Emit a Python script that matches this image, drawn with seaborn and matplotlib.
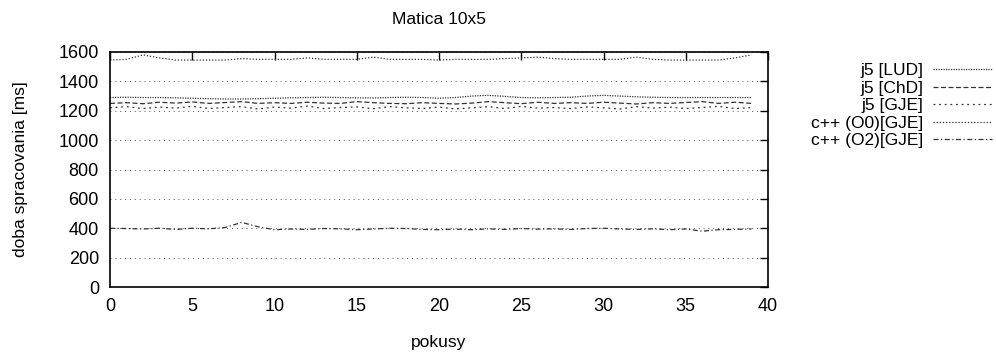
import numpy as np
import pandas as pd
import matplotlib
matplotlib.use("Agg")
import matplotlib.pyplot as plt
import seaborn as sns

title = "Matica 10x5"
xlabel = "pokusy"
ylabel = "doba spracovania [ms]"
series_names = ["j5 [LUD]", "j5 [ChD]", "j5 [GJE]", "c++ (O0)[GJE]", "c++ (O2)[GJE]"]
attempts = list(range(40))

lud = [1290, 1292, 1290, 1290, 1288, 1285, 1282, 1280, 1280, 1282,
       1285, 1288, 1290, 1292, 1290, 1288, 1287, 1290, 1292, 1290,
       1285, 1290, 1300, 1305, 1298, 1290, 1288, 1290, 1292, 1300,
       1305, 1300, 1295, 1292, 1290, 1290, 1290, 1290, 1290, 1290]
chd = [1250, 1255, 1248, 1258, 1252, 1260, 1250, 1256, 1262, 1250,
       1255, 1250, 1258, 1252, 1250, 1262, 1255, 1250, 1248, 1255,
       1250, 1246, 1252, 1262, 1255, 1248, 1258, 1250, 1255, 1250,
       1258, 1252, 1246, 1255, 1250, 1256, 1262, 1250, 1258, 1250]
gje = [1220, 1228, 1215, 1225, 1218, 1230, 1215, 1222, 1228, 1212,
       1225, 1218, 1232, 1215, 1222, 1226, 1214, 1228, 1220, 1215,
       1225, 1212, 1220, 1228, 1215, 1230, 1218, 1222, 1215, 1226,
       1220, 1212, 1228, 1218, 1225, 1215, 1222, 1230, 1215, 1222]
cpp_o0 = [1545, 1550, 1580, 1560, 1545, 1545, 1545, 1545, 1555, 1550,
          1550, 1550, 1560, 1550, 1550, 1550, 1565, 1550, 1550, 1550,
          1545, 1550, 1550, 1550, 1555, 1560, 1565, 1555, 1550, 1550,
          1550, 1550, 1565, 1550, 1545, 1545, 1545, 1545, 1560, 1580]
cpp_o2 = [400, 398, 395, 400, 392, 400, 396, 405, 440, 410,
          390, 395, 392, 398, 396, 390, 395, 400, 398, 392,
          390, 394, 390, 396, 392, 398, 394, 396, 392, 398,
          400, 395, 392, 396, 390, 395, 380, 390, 392, 395]

values = [lud, chd, gje, cpp_o0, cpp_o2]
df = pd.DataFrame({
    "x": np.tile(attempts, len(series_names)),
    "y": np.concatenate(values),
    "s": np.repeat(series_names, len(attempts)),
})

sns.set_theme(style="white")
plt.rcParams["font.family"] = ["Liberation Sans", "DejaVu Sans"]

FS = 12.5
fig = plt.figure(figsize=(9.96, 3.56), dpi=100)
ax = fig.add_axes([110/996, 1 - 287/356, (768-110)/996, (287-52)/356])

dashes = {
    "j5 [LUD]": (1, 1),
    "j5 [ChD]": (4, 2),
    "j5 [GJE]": (1.5, 3),
    "c++ (O0)[GJE]": (1, 1.5),
    "c++ (O2)[GJE]": (4, 2, 1, 2),
}
palette = {n: "#333333" for n in series_names}
sns.lineplot(data=df, x="x", y="y", hue="s", style="s", dashes=dashes,
             palette=palette, linewidth=0.9, ax=ax, legend=True)

ax.set_xlim(0, 40)
ax.set_ylim(0, 1600)
ax.set_xticks(range(0, 41, 5))
ax.set_yticks(range(0, 1601, 200))
ax.yaxis.grid(True, linestyle=(0, (1, 4)), color="#555555", linewidth=0.7)
ax.xaxis.grid(False)
for sp in ax.spines.values():
    sp.set_color("black")
    sp.set_linewidth(1.2)
ax.tick_params(direction="in", length=6, width=1, top=True, right=True,
               labelsize=13, colors="black", pad=8)
ax.set_title(title, fontsize=FS, pad=20, color="black")
ax.set_xlabel(xlabel, fontsize=FS, labelpad=14, color="black")
ax.set_ylabel(ylabel, fontsize=FS, labelpad=22, color="black")

handles, labels = ax.get_legend_handles_labels()
leg = ax.legend(handles, labels, loc="upper right",
                bbox_to_anchor=((992 - 110) / 658, (287 - 63) / 235),
                markerfirst=False, frameon=False, fontsize=FS,
                handlelength=3.4, handletextpad=0.55, labelspacing=0.14,
                borderaxespad=0, borderpad=0)
for t in leg.get_texts():
    t.set_color("black")

fig.savefig("out.png", dpi=100)
